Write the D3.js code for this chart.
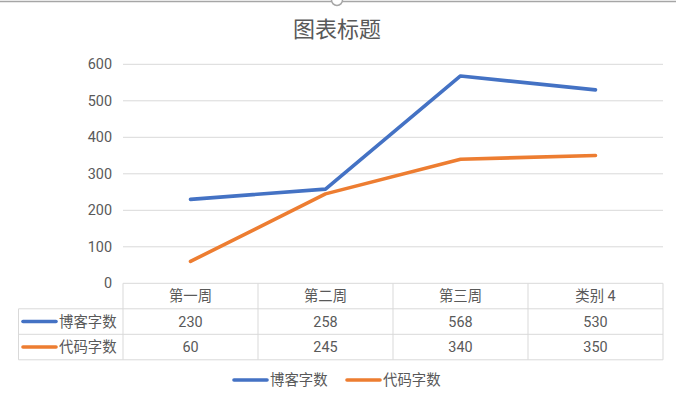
<!DOCTYPE html>
<html>
<head>
<meta charset="utf-8">
<script src="https://cdn.jsdelivr.net/npm/d3@7"></script>
<style>
  body { margin: 0; background: #fff; }
  text { font-family: Roboto, "Noto Sans CJK SC", sans-serif; fill: #595959; }
</style>
</head>
<body>
<svg id="chart"></svg>
<script>
// 数据
var categories = ["第一周", "第二周", "第三周", "类别 4"];
var seriesNames = ["博客字数", "代码字数"];
var blogValues = [230, 258, 568, 530];
var codeValues = [60, 245, 340, 350];
var yTicks = [0, 100, 200, 300, 400, 500, 600];
var colors = ["#4472C4", "#ED7D31"];

function run() {
  var width = 676, height = 396;
  var plotLeft = 123, plotRight = 663, plotTop = 64.3, plotBottom = 283.3;
  var rowH = 25.5, labelLeft = 18.5;

  var svg = d3.select("#chart").attr("width", width).attr("height", height);

  // 顶部边框和手柄
  svg.append("line")
    .attr("x1", 0).attr("x2", width).attr("y1", 1.5).attr("y2", 1.5)
    .attr("stroke", "#a6a6a6").attr("stroke-width", 1.5);
  svg.append("circle")
    .attr("cx", 337).attr("cy", 0).attr("r", 5.5)
    .attr("fill", "#fff").attr("stroke", "#a6a6a6").attr("stroke-width", 1.5);

  // 标题
  svg.append("text")
    .attr("x", 337).attr("y", 37)
    .attr("text-anchor", "middle")
    .style("font-size", "22px")
    .text("图表标题");

  var x = d3.scaleBand().domain(categories).range([plotLeft, plotRight]);
  var y = d3.scaleLinear().domain([0, 600]).range([plotBottom, plotTop]);

  // 网格线
  svg.append("g").selectAll("line")
    .data(yTicks.slice(1))
    .enter().append("line")
    .attr("x1", plotLeft).attr("x2", plotRight)
    .attr("y1", function (d) { return y(d); })
    .attr("y2", function (d) { return y(d); })
    .attr("stroke", "#d9d9d9").attr("stroke-width", 1);

  // y 轴刻度文字
  svg.append("g").selectAll("text")
    .data(yTicks)
    .enter().append("text")
    .attr("x", 112)
    .attr("y", function (d) { return y(d); })
    .attr("dy", "0.35em")
    .attr("text-anchor", "end")
    .style("font-size", "14.4px")
    .text(function (d) { return d; });

  // 折线
  var allSeries = [blogValues, codeValues];
  var line = d3.line()
    .x(function (d, i) { return x(categories[i]) + x.bandwidth() / 2; })
    .y(function (d) { return y(d); });

  svg.append("g").selectAll("path")
    .data(allSeries)
    .enter().append("path")
    .attr("d", line)
    .attr("fill", "none")
    .attr("stroke", function (d, i) { return colors[i]; })
    .attr("stroke-width", 3.6)
    .attr("stroke-linejoin", "round")
    .attr("stroke-linecap", "round");

  // 数据表
  var table = svg.append("g");
  var tableBottom = plotBottom + rowH * 3;
  var border = "#d9d9d9";

  // 横线
  table.append("line")
    .attr("x1", plotLeft).attr("x2", plotRight)
    .attr("y1", plotBottom).attr("y2", plotBottom)
    .attr("stroke", border);
  [1, 2, 3].forEach(function (r) {
    table.append("line")
      .attr("x1", labelLeft).attr("x2", plotRight)
      .attr("y1", plotBottom + rowH * r).attr("y2", plotBottom + rowH * r)
      .attr("stroke", border);
  });
  // 竖线
  table.append("line")
    .attr("x1", labelLeft).attr("x2", labelLeft)
    .attr("y1", plotBottom + rowH).attr("y2", tableBottom)
    .attr("stroke", border);
  categories.forEach(function (c) {
    table.append("line")
      .attr("x1", x(c)).attr("x2", x(c))
      .attr("y1", plotBottom).attr("y2", tableBottom)
      .attr("stroke", border);
  });
  table.append("line")
    .attr("x1", plotRight).attr("x2", plotRight)
    .attr("y1", plotBottom).attr("y2", tableBottom)
    .attr("stroke", border);

  // 表头
  table.selectAll(".head")
    .data(categories)
    .enter().append("text")
    .attr("class", "head")
    .attr("x", function (d) { return x(d) + x.bandwidth() / 2; })
    .attr("y", plotBottom + rowH / 2)
    .attr("dy", "0.35em")
    .attr("text-anchor", "middle")
    .style("font-size", "14.4px")
    .text(function (d) { return d; });

  // 数据行
  allSeries.forEach(function (vals, r) {
    var cy = plotBottom + rowH * (r + 1) + rowH / 2;
    table.append("line")
      .attr("x1", 23).attr("x2", 56)
      .attr("y1", cy).attr("y2", cy)
      .attr("stroke", colors[r]).attr("stroke-width", 3.6)
      .attr("stroke-linecap", "round");
    table.append("text")
      .attr("x", 59).attr("y", cy).attr("dy", "0.35em")
      .style("font-size", "14.4px")
      .text(seriesNames[r]);
    table.selectAll(".v" + r)
      .data(vals)
      .enter().append("text")
      .attr("class", "v" + r)
      .attr("x", function (d, i) { return x(categories[i]) + x.bandwidth() / 2; })
      .attr("y", cy).attr("dy", "0.35em")
      .attr("text-anchor", "middle")
      .style("font-size", "14.4px")
      .text(function (d) { return d; });
  });

  // 图例
  var legendX = [234, 347];
  var legend = svg.append("g").selectAll("g")
    .data(seriesNames)
    .enter().append("g")
    .attr("transform", function (d, i) { return "translate(" + legendX[i] + ",380)"; });
  legend.append("line")
    .attr("x1", 0).attr("x2", 33)
    .attr("stroke", function (d, i) { return colors[i]; })
    .attr("stroke-width", 3.6)
    .attr("stroke-linecap", "round");
  legend.append("text")
    .attr("x", 36).attr("dy", "0.35em")
    .style("font-size", "14.4px")
    .text(function (d) { return d; });
}

run();
</script>
</body>
</html>
